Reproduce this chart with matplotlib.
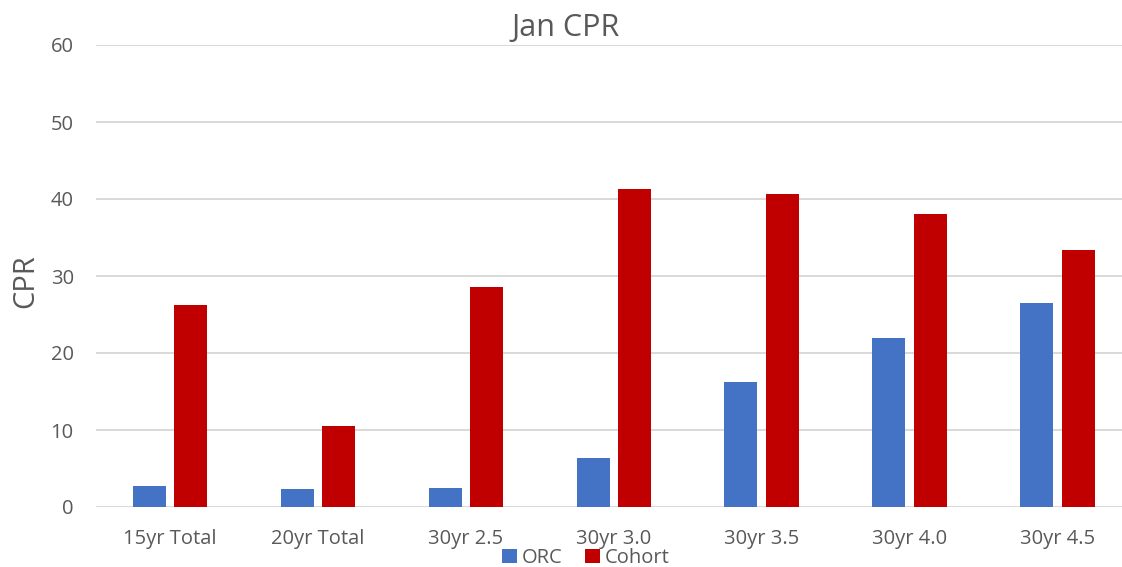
import matplotlib
matplotlib.use("Agg")
import matplotlib.pyplot as plt
import numpy as np

categories = ["15yr Total", "20yr Total", "30yr 2.5", "30yr 3.0", "30yr 3.5", "30yr 4.0", "30yr 4.5"]
orc = [2.7, 2.3, 2.5, 6.3, 16.2, 21.9, 26.5]
cohort = [26.2, 10.5, 28.6, 41.3, 40.6, 38.1, 33.4]

plt.rcParams['font.family'] = ['Open Sans', 'DejaVu Sans']
text_col = '#595959'
grid_col = '#D9D9D9'

fig = plt.figure(figsize=(11.22, 5.67), dpi=100)
ax = fig.add_axes([96 / 1122, 1 - 507 / 567, 1035.5 / 1122, 462 / 567])

x = np.arange(len(categories))
w = 0.223
off = 0.14
ax.bar(x - off, orc, w, color='#4472C4', label='ORC', zorder=3)
ax.bar(x + off, cohort, w, color='#C00000', label='Cohort', zorder=3)

ax.set_xlim(-0.5, len(categories) - 0.5)
ax.set_ylim(0, 60)
ax.set_yticks(range(0, 61, 10))
ax.set_xticks(x)
ax.set_xticklabels(categories)
ax.tick_params(axis='both', length=0, labelsize=14.5, labelcolor=text_col)
ax.tick_params(axis='y', pad=16)
ax.tick_params(axis='x', pad=16)
ax.yaxis.grid(True, color=grid_col, linewidth=1.4, zorder=0)
ax.set_axisbelow(True)
for s in ax.spines.values():
    s.set_visible(False)

fig.text(566 / 1122, 1 - 36 / 567, 'Jan CPR', ha='center', va='baseline',
         fontsize=22, color=text_col)
fig.text(26 / 1122, 1 - 281 / 567, 'CPR', rotation=90, ha='center', va='center',
         fontsize=21, color=text_col)

# legend sits just under the x labels, like the original
fig.legend(loc='center', bbox_to_anchor=(586 / 1122, 1 - 558 / 567), ncol=2,
           frameon=False, fontsize=14.5, labelcolor=text_col,
           handlelength=0.72, handleheight=0.72, handletextpad=0.26,
           columnspacing=1.1, borderpad=0, borderaxespad=0)

fig.savefig('out.png', dpi=100)
